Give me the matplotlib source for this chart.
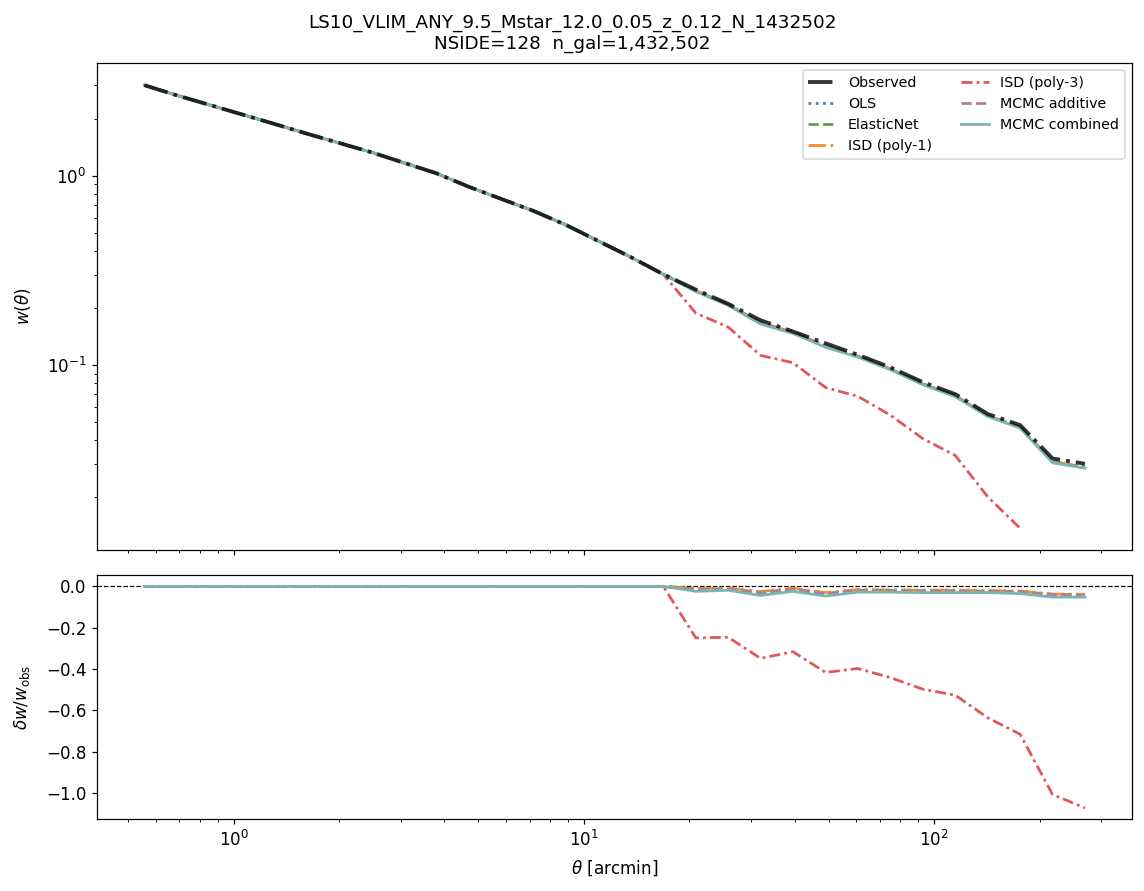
import numpy as np
import matplotlib.pyplot as plt

# angular bins (arcmin)
theta = [0.556, 0.688, 0.852, 1.055, 1.305, 1.615, 2.000, 2.474, 3.063, 3.790,
         4.691, 5.806, 7.186, 8.893, 11.01, 13.62, 16.86, 20.87, 25.83, 31.96,
         39.56, 48.96, 60.59, 74.99, 92.82, 114.9, 142.2, 176.0, 217.8, 269.5]

# observed correlation function
w_obs = [3.01, 2.66, 2.37, 2.11, 1.88, 1.67, 1.49, 1.33, 1.17, 1.03,
         0.874, 0.754, 0.651, 0.549, 0.451, 0.371, 0.301, 0.250, 0.210, 0.172,
         0.150, 0.130, 0.113, 0.097, 0.081, 0.070, 0.055, 0.048, 0.032, 0.030]

# fractional change dw/w_obs per correction method
zeros = [0.0] * 17
d_ols = zeros + [-0.015, -0.012, -0.030, -0.014, -0.035, -0.020, -0.020,
                 -0.022, -0.022, -0.024, -0.026, -0.040, -0.042]
d_enet = zeros + [-0.014, -0.011, -0.029, -0.013, -0.034, -0.019, -0.020,
                  -0.021, -0.021, -0.023, -0.025, -0.039, -0.041]
d_isd1 = zeros + [-0.010, -0.008, -0.025, -0.008, -0.030, -0.015, -0.017,
                  -0.018, -0.018, -0.020, -0.022, -0.037, -0.038]
d_isd3 = zeros + [-0.249, -0.246, -0.348, -0.316, -0.416, -0.397, -0.441,
                  -0.497, -0.526, -0.635, -0.715, -1.006, -1.071]
d_mcmc_add = zeros + [-0.016, -0.013, -0.031, -0.015, -0.036, -0.021, -0.021,
                      -0.023, -0.023, -0.025, -0.027, -0.041, -0.043]
d_mcmc_comb = zeros + [-0.024, -0.019, -0.044, -0.024, -0.047, -0.028, -0.028,
                       -0.030, -0.030, -0.030, -0.035, -0.052, -0.052]

methods = [
    ('OLS', d_ols, '#4e79a7', ':'),
    ('ElasticNet', d_enet, '#59a14f', '--'),
    ('ISD (poly-1)', d_isd1, '#f28e2b', '-.'),
    ('ISD (poly-3)', d_isd3, '#e15759', (0, (4, 1.5, 1, 1.5))),
    ('MCMC additive', d_mcmc_add, '#b07aa1', '--'),
    ('MCMC combined', d_mcmc_comb, '#76b7b2', '-'),
]

theta = np.array(theta)
w_obs = np.array(w_obs)

plt.rcParams['xtick.labelsize'] = 11
plt.rcParams['ytick.labelsize'] = 11
plt.rcParams['axes.labelsize'] = 11

fig = plt.figure(figsize=(10.4, 8.1), dpi=110)
gs = fig.add_gridspec(2, 1, height_ratios=[2, 1], hspace=0.068,
                      left=0.085, right=0.9895, top=0.9293, bottom=0.0808)
ax1 = fig.add_subplot(gs[0])
ax2 = fig.add_subplot(gs[1], sharex=ax1)

ax2.axhline(0, color='k', ls='--', lw=0.8)

for name, d, c, ls in methods:
    d = np.array(d)
    w = w_obs * (1 + d)
    w = np.where(w > 0, w, np.nan)
    ax1.plot(theta, w, color=c, ls=ls, lw=1.8, label=name)
    ax2.plot(theta, d, color=c, ls=ls, lw=1.8)

ax1.plot(theta, w_obs, color='k', ls='-.', lw=2.5, alpha=0.8,
         label='Observed', zorder=5)

ax1.set_xscale('log')
ax1.set_yscale('log')
ax1.set_ylabel(r'$w(\theta)$', labelpad=9)
fig.suptitle('LS10_VLIM_ANY_9.5_Mstar_12.0_0.05_z_0.12_N_1432502\n'
             'NSIDE=128  n_gal=1,432,502', fontsize=12, y=0.984)
plt.setp(ax1.get_xticklabels(), visible=False)

handles, labels = ax1.get_legend_handles_labels()
order = [6, 0, 1, 2, 3, 4, 5]
ax1.legend([handles[i] for i in order], [labels[i] for i in order],
           ncol=2, fontsize=9.3, loc='upper right')

ax2.set_xlabel(r'$\theta$ [arcmin]', labelpad=6)
ax2.set_ylabel(r'$\delta w / w_{\rm obs}$', labelpad=9)

fig.savefig('out.png', dpi=110)
